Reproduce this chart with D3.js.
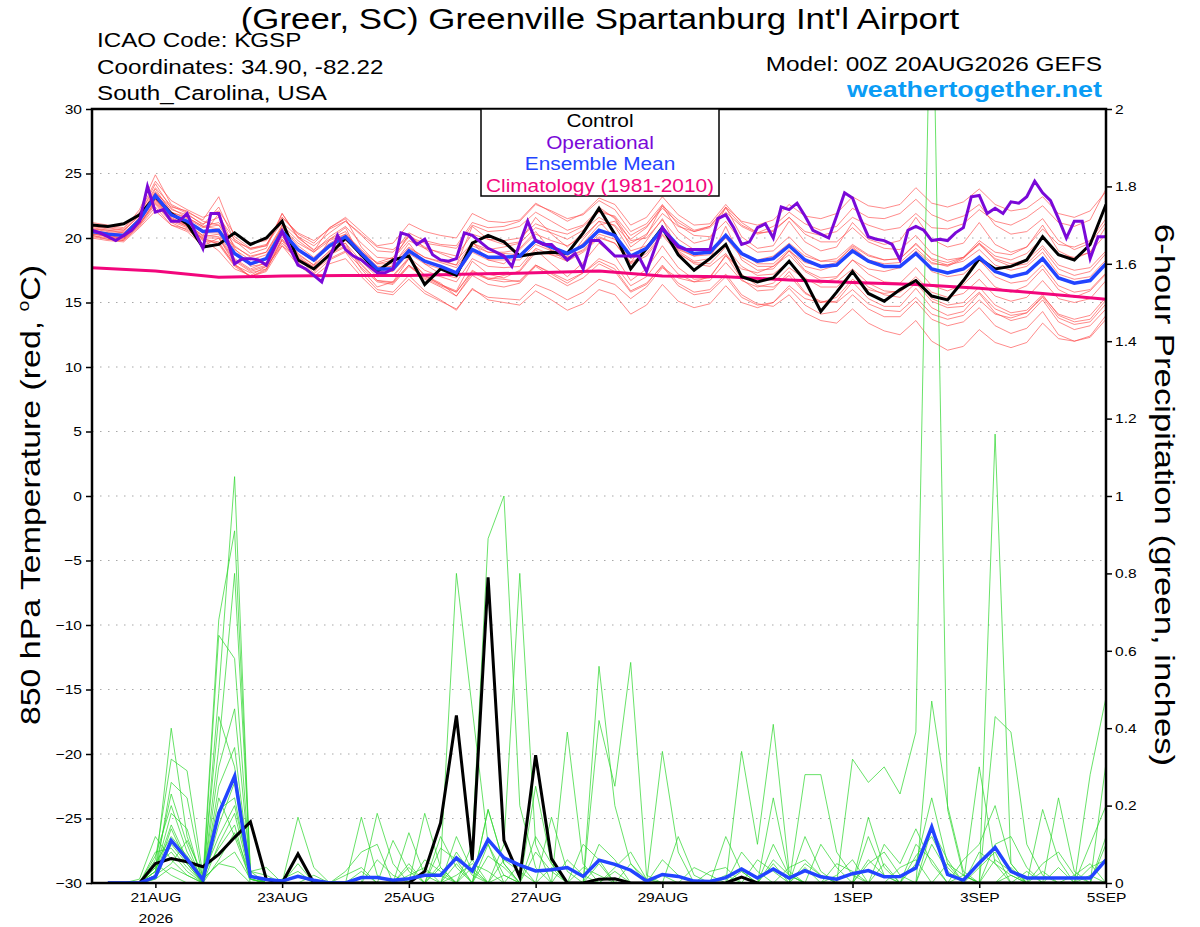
<!DOCTYPE html>
<html>
<head>
<meta charset="utf-8">
<script src="https://cdn.jsdelivr.net/npm/d3@7"></script>
<style>
body { margin: 0; background: #fff; }
text { font-family: 'Liberation Sans', Arial, sans-serif; }
</style>
</head>
<body>
<svg id="chart" width="1200" height="927"></svg>
<script>
// run: 00Z 20AUG2026, ensemble members every 6h, operational every 3h
const runStart = Date.UTC(2026, 7, 20, 0);
const hour = 3600 * 1000;

const tickDates = ['2026-08-21', '2026-08-23', '2026-08-25', '2026-08-27', '2026-08-29', '2026-09-01', '2026-09-03', '2026-09-05'];
const tickLabels = ['21AUG', '23AUG', '25AUG', '27AUG', '29AUG', '1SEP', '3SEP', '5SEP'];
const tempTicks = [-30, -25, -20, -15, -10, -5, 0, 5, 10, 15, 20, 25, 30];
const precipTicks = [0, 0.2, 0.4, 0.6, 0.8, 1, 1.2, 1.4, 1.6, 1.8, 2];

// 850 hPa temperature, 6-hourly from 00Z 20AUG
const tempControl = [
  21.0,20.9,21.1,21.8,23.2,21.9,21.1,19.3,19.5,20.4,19.5,20.0,21.3,
  18.3,17.6,18.7,20.0,18.7,17.4,18.3,18.6,16.4,17.6,17.1,19.6,20.2,
  19.7,18.6,18.8,18.9,18.8,20.4,22.3,20.3,17.6,19.2,20.8,18.7,17.5,
  18.4,19.5,17.0,16.6,16.9,18.2,16.7,14.3,15.8,17.4,15.7,15.1,16.0,
  16.7,15.5,15.2,16.7,18.4,17.6,17.8,18.3,20.1,18.7,18.3,19.5,22.6];
const tempMean = [
  20.5,20.3,20.2,21.4,23.3,21.8,21.3,20.5,20.6,18.8,18.0,18.4,20.5,
  19.1,18.3,19.4,20.1,18.8,17.6,17.6,19.0,18.2,17.8,17.3,19.1,18.5,
  18.5,18.6,19.8,19.3,18.8,19.4,20.6,20.2,18.6,19.2,20.7,19.4,18.8,
  18.9,20.2,18.8,18.2,18.4,19.4,18.3,17.8,17.9,19.0,18.2,17.8,17.8,
  18.8,17.6,17.3,17.6,18.5,17.4,17.0,17.3,18.4,16.9,16.5,16.7,18.0];
// operational run, 3-hourly
const tempOper = [
  20.6,20.4,20.1,19.8,20.2,20.6,21.3,24.0,22.0,22.2,21.3,21.3,21.9,
  20.5,19.2,21.9,21.9,20.0,18.0,18.4,18.4,18.3,17.9,19.2,20.5,19.2,
  17.9,17.6,17.1,16.6,18.4,20.2,19.1,18.6,18.3,17.8,17.3,17.3,17.6,
  20.4,20.2,19.5,19.9,18.7,18.3,18.2,18.4,20.4,20.2,19.7,19.2,18.9,
  18.6,17.8,19.6,21.3,19.8,19.5,19.5,18.9,18.3,18.8,17.6,19.8,19.8,
  19.2,18.6,18.6,18.6,18.6,17.4,19.1,20.8,20.0,19.3,19.1,19.1,19.1,
  19.1,21.5,21.8,20.8,19.5,19.7,20.8,21.1,20.0,22.4,22.2,22.7,21.7,
  20.6,20.3,20.0,21.7,23.5,23.1,21.5,20.1,19.9,19.8,19.5,18.3,20.6,
  20.9,20.6,19.8,19.9,19.8,20.4,20.8,23.2,23.3,21.9,22.3,21.9,22.8,
  22.7,23.2,24.4,23.5,22.9,21.5,20.0,21.3,21.3,18.4,20.1,20.1];
// climatology 1981-2010, daily at 00Z
const tempClimo = [17.7,17.45,16.95,17.05,17.1,17.1,17.2,17.3,17.45,17.05,17.0,16.75,16.55,16.4,16.1,15.7,15.25];

const tempMembers = [
  [20.8,20.6,20.5,21.8,24.2,22.3,21.6,20.9,21.2,19.4,18.5,18.9,21.0,
   19.8,18.9,20.1,20.9,19.6,18.5,18.4,19.8,19.2,18.9,18.6,20.3,19.9,
   19.8,20.0,21.1,20.6,20.3,20.9,22.0,21.7,20.2,20.9,22.3,21.2,20.5,
   20.8,22.0,20.9,20.3,20.6,21.6,20.5,20.2,20.5,21.6,21.0,20.6,20.8,
   21.9,20.8,20.7,21.1,22.2,21.3,21.0,21.6,22.5,21.2,20.9,21.4,23.8],
  [20.2,20.0,19.9,21.0,22.6,21.2,20.6,19.8,19.6,17.9,17.3,17.6,19.6,
   18.3,17.5,18.4,19.0,17.7,16.6,16.4,17.8,16.9,16.3,15.8,17.4,16.9,
   16.8,16.6,17.9,17.2,16.5,17.3,18.2,17.6,15.9,16.5,17.8,16.3,15.6,
   15.8,17.0,15.4,14.8,15.0,16.1,14.8,14.1,14.3,15.6,14.5,13.9,13.9,
   15.1,13.7,13.2,13.5,14.6,13.2,12.6,13.0,14.3,12.5,12.0,12.3,13.7],
  [20.6,20.4,20.1,21.6,23.8,22.0,21.1,20.2,21.9,19.2,17.8,18.0,21.0,
   18.7,17.9,19.9,20.8,18.4,17.2,17.9,19.6,18.0,17.2,16.9,19.7,18.3,
   18.0,19.2,20.5,19.0,18.2,19.9,21.3,20.0,18.1,19.8,21.5,19.0,18.2,
   18.4,20.9,18.3,17.5,17.6,19.0,17.5,16.9,17.0,18.3,17.2,16.6,16.5,
   17.7,16.3,15.9,16.4,17.6,16.2,15.8,16.3,17.6,16.0,15.4,15.9,17.2],
  [21.0,20.9,20.7,22.2,24.9,22.6,22.0,21.4,23.2,20.1,19.2,19.4,21.9,
   20.0,19.1,19.9,20.5,18.7,17.3,17.0,18.4,17.1,16.5,15.5,17.3,16.8,
   17.1,17.4,18.9,18.7,18.6,19.6,21.0,21.3,19.9,20.8,22.5,21.4,20.6,
   20.9,22.3,21.0,20.4,20.9,22.0,21.1,20.6,20.9,22.3,21.6,21.5,21.9,
   23.0,21.8,21.3,21.7,22.6,21.0,20.3,20.5,21.5,19.8,19.1,19.6,21.2],
  [20.0,19.8,19.7,20.8,22.1,21.0,20.7,19.9,19.0,17.6,17.1,17.8,19.4,
   18.4,17.8,19.0,19.8,18.9,18.1,18.5,20.1,19.6,19.4,19.2,21.0,20.5,
   20.6,20.9,22.0,21.3,20.6,21.0,22.2,21.6,19.8,20.0,21.4,19.9,19.1,
   19.0,20.3,18.9,18.0,18.0,19.1,17.8,17.5,17.9,19.2,18.3,18.0,18.1,
   19.2,18.1,17.8,18.4,19.6,18.6,18.3,18.8,20.0,18.7,18.5,18.9,20.3],
  [20.4,20.1,20.0,21.2,23.0,21.5,21.0,20.2,20.1,18.3,17.5,17.9,20.1,
   18.6,17.7,18.8,19.4,18.0,16.7,16.5,17.9,16.8,16.2,15.5,17.1,16.4,
   16.2,16.5,17.8,17.0,16.3,16.9,18.0,17.4,15.8,16.4,17.9,16.5,15.8,
   16.0,17.2,15.6,14.9,14.7,15.6,14.2,13.6,13.4,14.5,13.4,12.8,12.5,
   13.6,12.0,11.3,11.6,12.9,11.9,11.5,11.9,13.4,12.2,12.0,12.4,14.0],
  [20.7,20.5,20.4,21.5,23.5,22.4,22.1,21.3,21.0,19.7,19.2,19.5,21.2,
   20.1,19.4,20.4,21.3,20.2,19.0,18.9,20.4,19.8,19.5,19.4,21.2,20.8,
   20.9,21.3,22.6,22.1,21.5,21.8,22.9,22.2,20.5,21.1,22.6,21.0,20.2,
   20.1,21.3,19.7,18.9,19.0,20.1,18.8,18.2,18.2,19.3,18.3,17.8,17.7,
   18.8,17.4,17.0,17.2,18.3,17.0,16.5,16.7,17.9,16.3,15.8,16.0,17.3],
  [20.3,20.2,20.0,21.3,23.0,21.6,21.0,20.1,20.3,18.4,17.6,18.1,20.3,
   18.8,17.9,19.0,19.6,18.2,17.0,17.1,18.5,17.5,17.0,16.6,18.4,17.8,
   17.7,17.8,19.2,18.7,18.2,18.9,20.0,19.6,18.0,18.6,20.2,18.8,18.1,
   18.0,19.3,17.8,17.1,17.2,18.2,16.9,16.2,16.2,17.3,16.2,15.6,15.4,
   16.5,15.1,14.6,14.7,15.8,14.5,14.0,14.2,15.4,13.8,13.3,13.5,14.9],
  [20.9,20.7,20.6,21.9,23.9,22.5,21.9,21.0,22.4,19.8,18.8,19.2,21.9,
   20.1,19.0,20.8,21.5,19.3,18.0,18.3,20.3,19.2,18.3,17.9,20.9,19.9,
   19.5,19.7,21.6,20.3,19.3,20.4,22.4,21.5,19.3,20.2,22.5,20.5,19.6,
   19.9,22.4,20.1,19.2,19.4,21.3,19.7,19.0,19.3,21.2,19.9,19.5,19.8,
   21.6,19.9,19.3,19.6,21.2,19.5,18.9,19.3,21.0,19.0,18.4,18.9,20.9],
  [20.5,20.2,20.0,21.1,22.7,21.3,20.8,20.0,19.5,17.8,17.0,17.4,19.4,
   17.9,17.0,18.0,18.4,17.0,15.8,15.6,16.8,15.7,15.1,14.5,16.0,15.4,
   15.3,15.2,16.4,15.9,15.2,15.8,16.8,16.4,15.3,16.2,17.7,16.9,16.6,
   17.0,18.6,17.6,17.3,17.8,19.0,18.1,17.8,18.1,19.4,18.6,18.3,18.4,
   19.6,18.3,17.9,18.2,19.1,17.9,17.5,17.8,18.9,17.2,16.8,17.0,18.3],
  [20.6,20.3,20.2,21.6,23.5,22.0,21.5,20.8,21.0,19.1,18.3,18.7,20.8,
   19.4,18.5,19.6,20.3,19.0,17.8,17.8,19.2,18.5,18.1,17.7,19.4,18.9,
   18.9,19.1,20.3,19.8,19.4,20.1,21.3,21.0,19.6,20.3,21.9,20.9,20.5,
   20.9,22.4,21.3,21.0,21.4,22.6,21.7,21.5,21.9,23.2,22.5,22.3,22.6,
   23.9,22.7,22.4,22.8,23.8,22.6,22.1,22.3,23.2,21.9,21.6,22.1,23.6],
  [20.1,19.9,19.8,20.9,22.4,21.0,20.5,19.4,20.0,18.0,17.0,17.5,19.9,
   18.4,17.3,18.9,19.6,17.6,16.2,16.6,18.4,17.1,16.4,15.9,18.2,17.2,
   16.9,17.5,19.1,18.0,17.0,18.1,19.6,18.6,16.7,17.6,19.4,17.7,16.8,
   16.9,18.7,16.8,15.9,16.0,17.4,15.8,15.0,15.1,16.6,15.3,14.7,14.7,
   16.1,14.6,14.0,14.3,15.7,14.2,13.6,13.9,15.2,13.5,12.9,13.2,14.5],
  [20.7,20.6,20.4,21.5,23.2,22.0,21.6,20.9,20.7,19.3,18.6,18.9,20.8,
   19.6,18.9,19.8,20.3,19.1,18.0,18.0,19.3,18.5,18.2,17.9,19.6,19.1,
   19.3,19.6,20.8,20.4,19.9,20.6,21.6,20.9,19.0,19.4,20.6,18.9,18.0,
   17.8,18.8,17.2,16.3,16.2,17.1,15.7,15.1,15.0,16.0,14.9,14.4,14.3,
   15.4,14.1,13.7,14.0,15.2,14.1,13.8,14.2,15.5,14.1,13.7,14.0,15.4],
  [21.2,21.0,20.8,22.0,24.4,22.9,22.2,21.6,22.1,20.3,19.6,19.8,21.6,
   20.4,19.8,20.7,21.3,20.3,19.3,19.1,20.1,19.3,18.8,18.3,19.6,18.9,
   18.8,18.7,19.7,19.1,18.5,19.0,20.1,19.6,18.1,18.8,20.3,19.1,18.6,
   18.9,20.1,18.8,18.3,18.6,19.6,18.6,18.2,18.4,19.5,18.7,18.3,18.4,
   19.5,18.4,18.1,18.5,19.5,18.4,18.0,18.3,19.4,17.9,17.5,17.7,19.0],
  [20.3,20.1,19.9,21.1,22.8,21.4,20.9,20.0,20.0,18.2,17.4,17.8,19.9,
   18.5,17.6,18.7,19.3,17.9,16.7,16.6,17.9,17.0,16.4,15.8,17.5,16.8,
   16.6,16.7,17.9,17.3,16.7,17.3,18.4,17.9,16.3,17.0,18.6,17.2,16.6,
   16.7,18.1,16.7,16.2,16.5,17.7,16.8,16.5,16.9,18.3,17.6,17.4,17.7,
   19.0,18.0,17.9,18.5,19.8,18.9,18.7,19.3,20.7,19.5,19.3,19.8,21.5],
  [20.5,20.4,20.3,21.4,23.1,21.7,21.2,20.4,20.4,18.7,17.9,18.3,20.4,
   19.0,18.2,19.3,19.9,18.7,17.5,17.4,18.8,18.0,17.6,17.1,18.9,18.3,
   18.3,18.3,19.5,19.0,18.5,19.1,20.3,19.9,18.4,19.0,20.5,19.2,18.6,
   18.7,20.0,18.5,17.8,17.8,18.7,17.4,16.7,16.6,17.6,16.5,15.9,15.8,
   16.8,15.3,14.8,15.0,16.2,14.8,14.2,14.4,15.6,14.0,13.5,13.7,15.2],
  [20.9,20.8,20.6,21.7,23.6,22.2,21.8,21.1,21.6,19.9,19.1,19.4,21.6,
   20.3,19.6,20.8,21.6,20.5,19.4,19.6,21.1,20.5,20.2,20.0,21.9,21.3,
   21.2,21.4,22.7,22.0,21.3,21.9,23.1,22.6,21.0,21.6,23.2,21.8,21.0,
   21.1,22.6,21.2,20.4,20.5,21.6,20.3,19.7,19.7,20.8,19.7,19.2,19.1,
   20.2,18.8,18.3,18.5,19.6,18.3,17.8,18.0,19.2,17.6,17.1,17.4,18.8],
  [20.2,19.9,19.8,21.0,22.9,21.5,20.9,19.9,19.7,17.9,17.0,17.6,19.8,
   18.1,17.2,18.3,18.9,17.3,16.0,15.8,17.1,15.9,15.2,14.4,16.1,15.2,
   15.0,14.8,15.9,15.2,14.4,14.9,16.0,15.6,14.1,14.8,16.4,15.1,14.6,
   14.9,16.3,15.0,14.6,15.0,16.3,15.3,15.0,15.4,16.8,16.0,15.7,15.9,
   17.0,15.8,15.4,15.7,16.8,15.5,15.1,15.4,16.7,15.3,15.0,15.3,16.7]
];

// 6-hour precipitation (inches), 6-hourly from 06Z 20AUG
const precipControl = [
  0,0,0,.05,.063,.055,.042,.074,.118,.158,.01,0,.075,0,0,0,
  0,0,0,0,.03,.155,.433,.059,.79,.11,.015,.33,.063,0,0,.01,
  .011,0,0,0,0,0,0,0,.015,0,0,0,0,0,0,0,
  0,0,0,0,0,0,0,0,0,0,0,0,0,0,0,0];
const precipMean = [
  0,0,0,.016,.11,.062,.008,.18,.276,.017,.009,.005,.017,.007,0,0,
  .014,.014,.007,.011,.02,.02,.065,.031,.112,.065,.046,.031,.034,.04,.017,.059,
  .048,.033,.005,.022,.017,.005,.004,.014,.036,.013,.036,.013,.032,.016,.01,.024,
  .032,.016,.017,.039,.145,.022,.007,.052,.092,.03,.013,.013,.013,.013,.013,.06];
const precipMembers = [
  [0,0,0,.03,.40,.12,.01,.05,.08,.01,0,0,.02,0,0,0,
   0,0,0,0,.03,.02,0,0,0,0,0,.25,.05,0,0,0,
   0,0,0,.02,0,0,0,0,0,0,.05,0,.12,.03,0,.32,
   .26,.30,.23,.39,2.5,.19,.02,0,0,0,0,.03,0,0,0,0],
  [0,0,0,.06,.32,.29,.02,.12,.20,.02,0,0,0,0,0,0,
   .17,.02,0,0,0,0,.12,.03,0,0,0,0,0,0,0,.42,
   .25,.57,.02,0,0,0,0,0,.03,0,0,0,0,0,0,0,
   .17,.04,0,0,0,0,0,0,.43,.39,.10,.02,0,0,0,0],
  [0,0,0,.02,.26,.22,.01,.68,.91,.03,.04,0,0,0,0,0,
   0,0,0,.13,.02,0,0,0,.19,.05,0,0,0,.39,.05,0,
   0,0,0,0,0,0,0,0,.34,.10,.41,.03,0,0,0,0,
   0,0,0,0,0,0,0,.08,.05,0,0,0,0,0,.28,.48],
  [0,0,0,.04,.23,.10,0,.64,.58,.02,0,0,.17,.04,0,0,
   0,.18,.05,0,0,.05,.80,.45,.10,.02,0,0,0,0,0,0,
   0,0,0,0,0,0,0,0,0,0,0,0,.28,.28,.08,.02,
   0,0,0,0,.47,.20,.03,0,0,0,0,0,0,0,0,0],
  [0,0,0,.01,.10,.05,0,.49,1.05,.01,0,0,0,0,0,0,
   .03,0,0,.04,0,0,0,.10,.89,1.0,.20,.04,0,0,0,0,
   0,0,0,.34,.08,0,0,0,0,0,0,0,0,0,0,0,
   0,.05,0,0,0,0,0,0,1.16,.05,0,0,.22,.03,0,0],
  [0,0,0,.05,.12,.07,.01,.43,.30,.02,0,0,0,0,0,0,
   0,0,0,0,.18,.04,0,0,0,.10,.80,.10,0,0,0,.56,
   .20,.05,0,0,0,0,0,0,0,0,.22,.02,0,0,0,0,
   0,.10,.05,.14,.05,0,0,0,0,0,0,0,0,0,0,.31],
  [0,0,0,.03,.18,.14,0,.19,.22,.01,0,0,0,0,0,0,
   0,0,.11,.03,0,0,.05,0,.10,0,0,0,.17,.03,0,0,
   0,0,0,0,0,0,0,.12,.03,0,.10,.02,0,0,0,0,
   0,0,0,0,0,0,0,0,0,.02,0,.19,.06,0,0,0],
  [0,0,0,.08,.09,.04,0,.30,.45,.03,.02,0,0,0,0,0,
   0,0,0,0,0,.09,.06,0,.19,.05,0,0,0,0,0,.10,
   .06,0,0,0,.12,.02,0,0,0,0,0,0,0,0,0,0,
   .12,.02,0,0,.10,.03,0,0,.10,.12,.04,0,0,0,0,.12],
  [0,0,.01,.12,.06,.02,0,.06,.13,.02,0,0,.05,0,0,.03,
   .08,.10,0,.05,0,0,0,.06,0,0,.05,0,0,0,.10,.06,
   0,0,0,0,0,0,0,0,0,0,0,0,.05,.02,0,0,
   0,0,0,.10,.06,0,0,.04,.08,0,0,0,0,.02,.05,0],
  [0,0,0,.03,.15,.06,0,.25,.35,.02,0,0,0,0,0,0,
   0,0,0,0,.06,.03,0,0,0,0,0,.08,.03,0,0,0,
   0,.05,.01,0,0,0,0,0,0,.06,.03,0,0,0,0,0,
   .05,.08,.02,0,0,0,.06,.10,.20,.05,0,0,0,0,.04,.06],
  [0,0,0,.02,.05,.11,.02,.09,.15,0,0,0,0,0,0,0,
   0,0,0,0,0,0,.02,.05,.03,0,0,0,0,.06,.02,0,
   0,0,0,0,0,0,.03,.04,0,0,0,0,0,0,.05,.03,
   0,0,0,.07,.12,.04,0,0,0,0,0,.05,.08,.02,0,0],
  [0,0,0,.05,.02,0,0,.15,.26,.02,0,0,0,0,0,.02,
   .04,0,0,0,0,.12,.04,0,0,.06,.03,0,0,0,0,0,
   .04,.08,.01,0,0,0,0,0,0,0,0,.04,.06,.02,0,0,
   0,0,.04,.06,0,0,0,.30,.05,.02,0,0,0,0,0,0],
  [0,0,0,.04,.08,.03,0,.10,.18,.01,0,0,0,0,0,0,
   0,0,0,.02,.04,0,0,0,.07,.04,0,0,0,0,0,.05,
   0,0,0,0,0,.04,.02,0,0,0,0,0,0,.10,.04,0,
   0,0,0,0,.14,.06,0,0,0,0,.03,0,0,0,.10,.20],
  [0,0,0,.01,.04,.02,0,.35,.80,.03,0,.01,.03,0,0,0,
   0,0,0,0,0,0,0,.04,0,0,0,.12,.05,0,0,0,
   0,0,0,0,0,0,0,0,.08,.03,0,0,0,0,.02,.06,
   0,0,0,0,0,0,.02,0,.06,.03,0,0,0,0,0,0],
  [0,0,0,.07,.20,.08,.01,.05,.04,0,0,0,0,0,0,0,
   0,.06,.02,0,0,0,.08,.02,0,0,0,0,0,0,.04,.02,
   0,0,0,.06,.02,0,0,0,0,0,0,0,.04,0,0,0,
   .06,.02,0,0,0,.05,.02,0,0,0,0,0,.04,0,0,.10],
  [0,0,0,.02,.14,.05,0,.22,.12,.01,0,0,0,.02,0,0,
   0,0,0,0,0,.04,0,0,0,.02,0,0,.04,0,0,0,
   .03,0,0,0,0,0,0,.02,0,0,.06,.02,0,0,0,0,
   0,0,0,.05,.22,.05,0,0,0,.04,0,0,0,0,.02,0]
];

const svg = d3.select('#chart');
const plot = { left: 92, right: 1106, top: 109, bottom: 883 };

const x = d3.scaleUtc()
    .domain([new Date(runStart), new Date(runStart + 384 * hour)])
    .range([plot.left, plot.right]);
const yT = d3.scaleLinear().domain([-30, 30]).range([plot.bottom, plot.top]);
const yP = d3.scaleLinear().domain([0, 2]).range([plot.bottom, plot.top]);

// time of point i of a series that starts at firstHour, one value every stepHours
const when = (i, firstHour, stepHours) => new Date(runStart + (firstHour + i * stepHours) * hour);

const lineFor = (scale, firstHour, stepHours) => d3.line()
    .x((d, i) => x(when(i, firstHour, stepHours)))
    .y(d => scale(d));

// the original plot font is wider than Liberation Sans, so widen text a bit
const stretch = (sel, k) => sel.each(function () {
    const w = this.getComputedTextLength();
    d3.select(this).attr('textLength', w * k).attr('lengthAdjust', 'spacingAndGlyphs');
});

svg.append('rect').attr('width', 1200).attr('height', 927).attr('fill', '#fff');

svg.append('clipPath').attr('id', 'plotclip')
    .append('rect')
    .attr('x', plot.left).attr('y', plot.top)
    .attr('width', plot.right - plot.left).attr('height', plot.bottom - plot.top);

// dotted grid on the temperature ticks
svg.append('g').selectAll('line')
    .data(tempTicks.filter(t => t > -30 && t < 30))
    .enter()
    .append('line')
    .attr('x1', plot.left).attr('x2', plot.right)
    .attr('y1', d => yT(d)).attr('y2', d => yT(d))
    .attr('stroke', '#a8a8a8')
    .attr('stroke-width', 1.2)
    .attr('stroke-dasharray', '1.5,6.5');

const lines = svg.append('g').attr('clip-path', 'url(#plotclip)');

lines.selectAll('path.tmem')
    .data(tempMembers)
    .enter()
    .append('path')
    .attr('class', 'tmem')
    .attr('d', lineFor(yT, 0, 6))
    .attr('fill', 'none')
    .attr('stroke', '#ff4848')
    .attr('stroke-opacity', 0.8)
    .attr('stroke-width', 0.8);

lines.selectAll('path.pmem')
    .data(precipMembers)
    .enter()
    .append('path')
    .attr('class', 'pmem')
    .attr('d', lineFor(yP, 6, 6))
    .attr('fill', 'none')
    .attr('stroke', '#2ed62e')
    .attr('stroke-opacity', 0.9)
    .attr('stroke-width', 0.8);

const drawLine = (data, scale, firstHour, stepHours, color, width) => {
    lines.append('path')
        .datum(data)
        .attr('d', lineFor(scale, firstHour, stepHours))
        .attr('fill', 'none')
        .attr('stroke', color)
        .attr('stroke-width', width)
        .attr('stroke-linejoin', 'miter');
};

drawLine(tempClimo, yT, 0, 24, '#f2067c', 3);
drawLine(tempControl, yT, 0, 6, '#000', 3);
drawLine(precipControl, yP, 6, 6, '#000', 3);
drawLine(precipMean, yP, 6, 6, '#2244ff', 3.5);
drawLine(tempMean, yT, 0, 6, '#2244ff', 3.5);
drawLine(tempOper, yT, 0, 3, '#7a08d8', 3);

// axes
const leftAxis = svg.append('g')
    .attr('transform', `translate(${plot.left},0)`)
    .call(d3.axisLeft(yT).tickValues(tempTicks).tickSize(6).tickPadding(4).tickFormat(d3.format('d')));
const rightAxis = svg.append('g')
    .attr('transform', `translate(${plot.right},0)`)
    .call(d3.axisRight(yP).tickValues(precipTicks).tickSize(6).tickPadding(3).tickFormat(d => d3.format('~g')(d)));
const bottomAxis = svg.append('g')
    .attr('transform', `translate(0,${plot.bottom})`)
    .call(d3.axisBottom(x).tickValues(tickDates.map(d => new Date(d + 'T00:00:00Z'))).tickSize(5).tickPadding(4)
        .tickFormat((d, i) => tickLabels[i]));

[leftAxis, rightAxis, bottomAxis].forEach(ax => {
    ax.select('.domain').remove();
    ax.selectAll('.tick line').attr('stroke', '#000').attr('stroke-width', 1.5);
    ax.selectAll('.tick text')
        .attr('fill', '#000')
        .style('font-family', "'Liberation Sans', Arial, sans-serif")
        .style('font-size', '13.5px')
        .call(stretch, 1.15);
});

bottomAxis.select('.tick')
    .append('text')
    .attr('y', 30)
    .attr('dy', '0.71em')
    .attr('text-anchor', 'middle')
    .attr('fill', '#000')
    .style('font-size', '13.5px')
    .text('2026')
    .call(stretch, 1.15);

// plot frame
svg.append('rect')
    .attr('x', plot.left).attr('y', plot.top)
    .attr('width', plot.right - plot.left).attr('height', plot.bottom - plot.top)
    .attr('fill', 'none')
    .attr('stroke', '#000')
    .attr('stroke-width', 2.5);

// legend
const legendItems = ['Control', 'Operational', 'Ensemble Mean', 'Climatology (1981-2010)'];
const legendColors = ['#000', '#7a08d8', '#2244ff', '#f2067c'];
svg.append('rect')
    .attr('x', 481).attr('y', plot.top)
    .attr('width', 238).attr('height', 87)
    .attr('fill', '#fff')
    .attr('stroke', '#000')
    .attr('stroke-width', 1.5);
svg.append('g').selectAll('text')
    .data(legendItems)
    .enter()
    .append('text')
    .attr('x', 600)
    .attr('y', (d, i) => 127 + i * 21.7)
    .attr('text-anchor', 'middle')
    .attr('font-size', 17.5)
    .attr('fill', (d, i) => legendColors[i])
    .text(d => d)
    .call(stretch, 1.19);

// titles and station info
svg.append('text')
    .attr('x', 600).attr('y', 29)
    .attr('text-anchor', 'middle')
    .attr('font-size', 30)
    .text("(Greer, SC) Greenville Spartanburg Int'l Airport")
    .call(stretch, 1.16);

const infoLeft = ['ICAO Code: KGSP', 'Coordinates: 34.90, -82.22', 'South_Carolina, USA'];
svg.append('g').selectAll('text')
    .data(infoLeft)
    .enter()
    .append('text')
    .attr('x', 97)
    .attr('y', (d, i) => 47 + i * 26.5)
    .attr('font-size', 20.5)
    .text(d => d)
    .call(stretch, 1.18);

svg.append('text')
    .attr('x', 1102).attr('y', 71)
    .attr('text-anchor', 'end')
    .attr('font-size', 20.5)
    .text('Model: 00Z 20AUG2026 GEFS')
    .call(stretch, 1.19);

svg.append('text')
    .attr('x', 1102).attr('y', 97)
    .attr('text-anchor', 'end')
    .attr('font-size', 22)
    .attr('font-weight', 'bold')
    .attr('fill', '#0a9cf5')
    .text('weathertogether.net')
    .call(stretch, 1.22);

const leftTitle = svg.append('text')
    .attr('transform', 'translate(40,495) rotate(-90)')
    .attr('text-anchor', 'middle')
    .attr('font-size', 28)
    .text('850 hPa Temperature (red, ');
leftTitle.append('tspan').attr('font-size', 16).attr('dy', -11).text('o');
leftTitle.append('tspan').attr('dy', 11).text('C)');
leftTitle.call(stretch, 1.21);

svg.append('text')
    .attr('transform', 'translate(1155,495) rotate(90)')
    .attr('text-anchor', 'middle')
    .attr('font-size', 28)
    .text('6-hour Precipitation (green, inches)')
    .call(stretch, 1.24);
</script>
</body>
</html>
